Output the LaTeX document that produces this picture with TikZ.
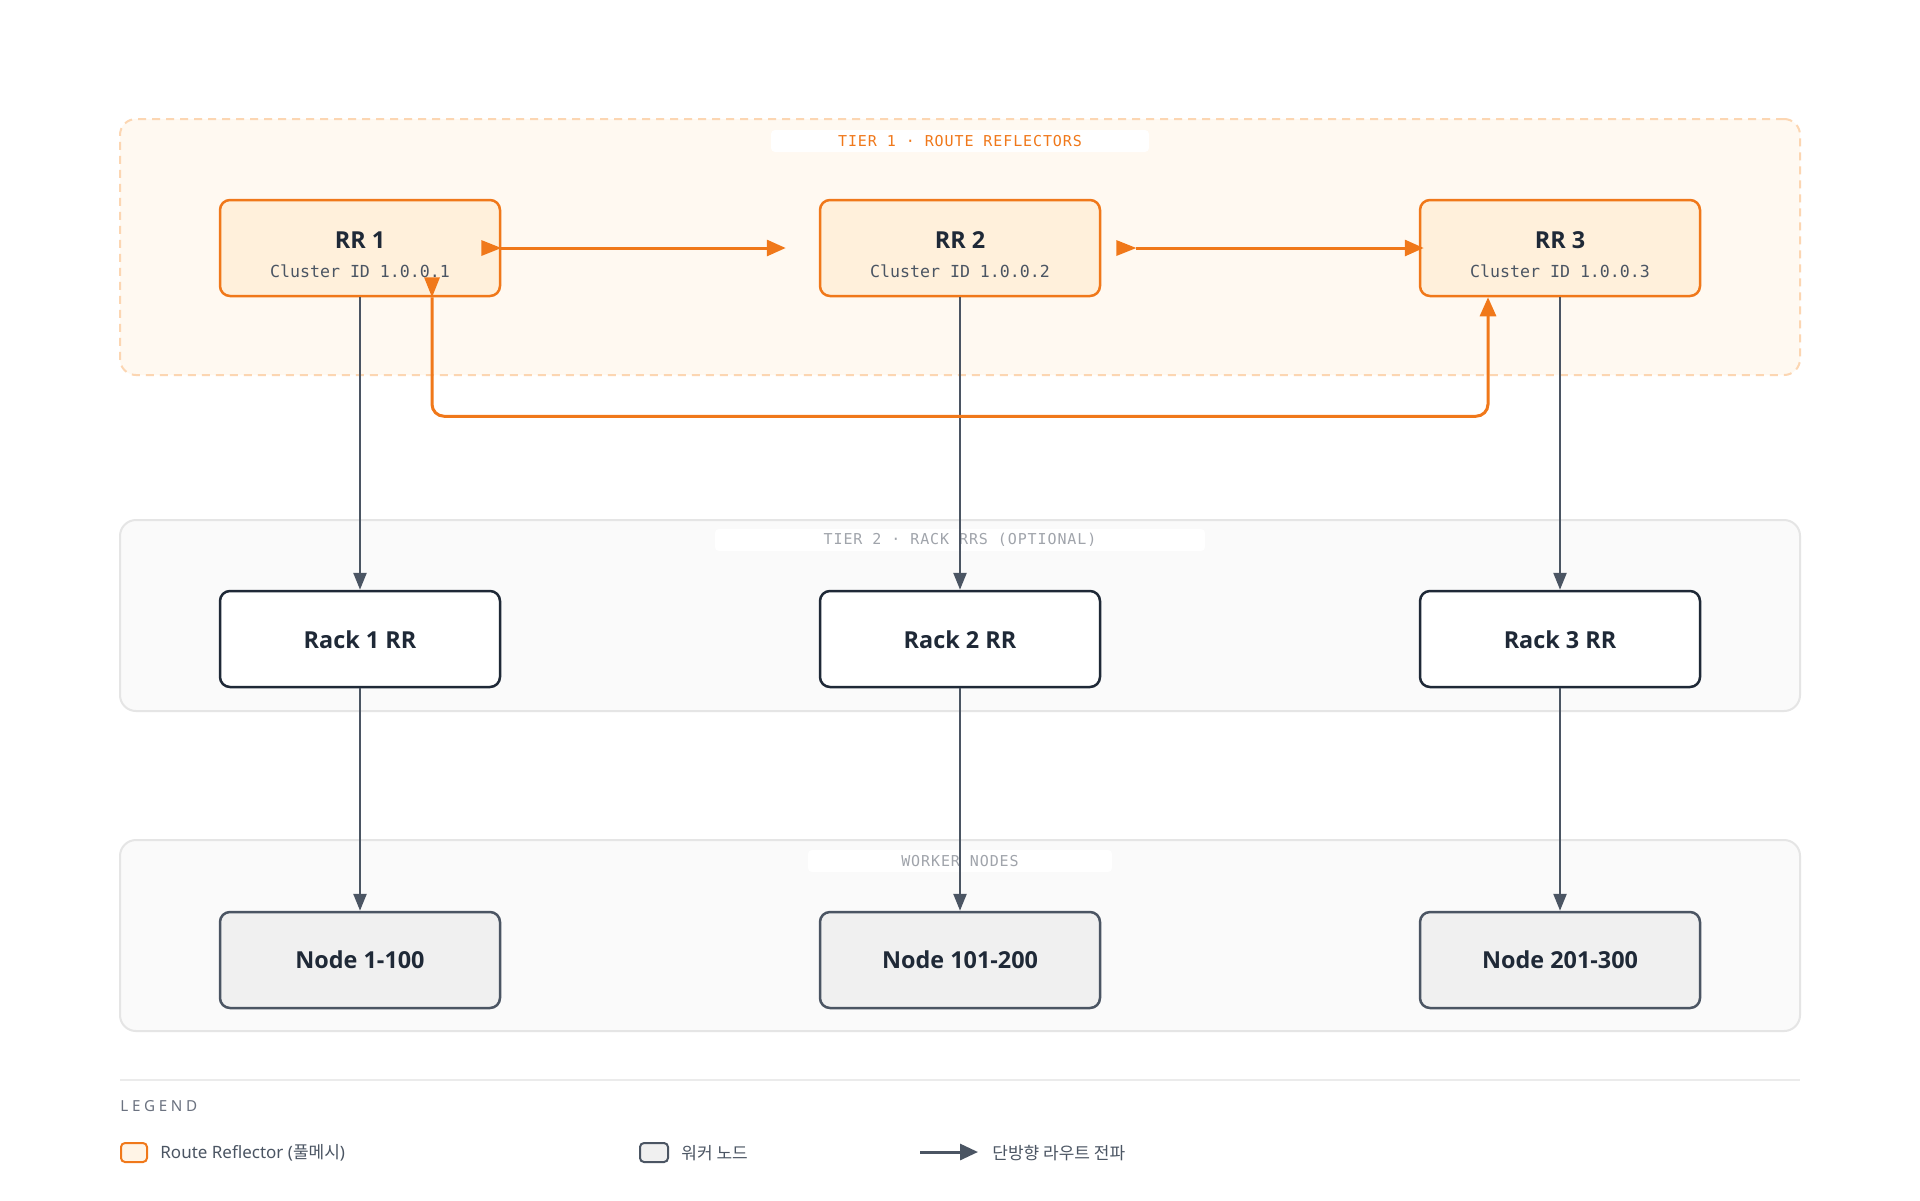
\documentclass[tikz,border=0pt]{standalone}
\usepackage{fontspec}
\setmainfont{Noto Sans}
\setmonofont{DejaVu Sans Mono}
\newfontfamily\cjk{Noto Sans CJK KR}
\newfontfamily\titlefont{Open Sans}
\newfontfamily\monols[LetterSpace=6]{DejaVu Sans Mono}
\newfontfamily\sansls[LetterSpace=24]{Noto Sans}
\usetikzlibrary{arrows.meta,calc}
\definecolor{orangec}{RGB}{240,120,26}
\definecolor{rrfill}{RGB}{255,240,219}
\definecolor{tonefill}{RGB}{255,249,241}
\definecolor{tonedraw}{RGB}{252,214,178}
\definecolor{ttwofill}{RGB}{250,250,250}
\definecolor{ttwodraw}{RGB}{229,229,229}
\definecolor{darktext}{RGB}{31,41,55}
\definecolor{greyline}{RGB}{75,85,99}
\definecolor{nodefill}{RGB}{240,240,240}
\definecolor{labgrey}{RGB}{160,164,171}
\definecolor{leggrey}{RGB}{107,114,128}
\definecolor{sepgrey}{RGB}{235,235,235}
\tikzset{
  tierbox/.style={rounded corners=8pt, minimum width=840pt, inner sep=0pt},
  tierlabel/.style={fill=white, rounded corners=2pt, minimum height=11pt, inner sep=0pt, font=\monols\fontsize{7.5}{9}\selectfont},
  rrbox/.style={draw=orangec, fill=rrfill, line width=1.25pt, rounded corners=5pt, minimum width=140pt, minimum height=48pt, inner sep=0pt},
  rackbox/.style={draw=darktext, fill=white, line width=1.25pt, rounded corners=5pt, minimum width=140pt, minimum height=48pt, inner sep=0pt},
  nodebox/.style={draw=greyline, fill=nodefill, line width=1.25pt, rounded corners=5pt, minimum width=140pt, minimum height=48pt, inner sep=0pt},
  boxtitle/.style={anchor=base, inner sep=0pt, text=darktext, font=\titlefont\bfseries\fontsize{11.7}{14}\selectfont},
  boxsub/.style={anchor=base, inner sep=0pt, text=greyline, font=\ttfamily\fontsize{8.3}{10}\selectfont},
  garrow/.style={draw=greyline, line width=1.25pt, -{Triangle[length=8.5pt,width=6.5pt]}},
  oarrow/.style={draw=orangec, line width=1.5pt, -{Triangle[length=9.5pt,width=8pt]}},
  legtext/.style={anchor=west, inner sep=0pt, text=greyline, font=\fontsize{8.5}{10}\selectfont},
}
\begin{document}
\begin{tikzpicture}[x=0.5pt,y=-0.5pt]
\useasboundingbox[fill=white] (0,0) rectangle (1920,1200);

% tier backgrounds
\node[tierbox, draw=tonedraw, fill=tonefill, line width=1pt, dash pattern=on 4pt off 3pt, minimum height=128pt] (tier1) at (960,247) {};
\node[tierbox, draw=ttwodraw, fill=ttwofill, line width=1pt, minimum height=95.5pt] (tier2) at (960,615.5) {};
\node[tierbox, draw=ttwodraw, fill=ttwofill, line width=1pt, minimum height=95.5pt] (tier3) at (960,935.5) {};

\node[tierlabel, text=orangec, minimum width=189pt] (t1lab) at (960,141) {TIER 1 · ROUTE REFLECTORS};
\node[tierlabel, text=labgrey, minimum width=245pt] (t2lab) at (960,540) {TIER 2 · RACK RRS (OPTIONAL)};
\node[tierlabel, text=labgrey, minimum width=152pt] (t3lab) at (960,861) {WORKER NODES};

% RR boxes
\node[rrbox] (rr1) at (360,248) {};
\node[rrbox] (rr2) at (960,248) {};
\node[rrbox] (rr3) at (1560,248) {};
\node[boxtitle] (rr1t) at (360,248) {RR 1};
\node[boxtitle] (rr2t) at (960,248) {RR 2};
\node[boxtitle] (rr3t) at (1560,248) {RR 3};
\node[boxsub] (rr1s) at (360,277) {Cluster ID 1.0.0.1};
\node[boxsub] (rr2s) at (960,277) {Cluster ID 1.0.0.2};
\node[boxsub] (rr3s) at (1560,277) {Cluster ID 1.0.0.3};

% rack boxes
\node[rackbox] (rack1) at (360,639) {};
\node[rackbox] (rack2) at (960,639) {};
\node[rackbox] (rack3) at (1560,639) {};
\node[boxtitle] (rack1t) at (360,648) {Rack 1 RR};
\node[boxtitle] (rack2t) at (960,648) {Rack 2 RR};
\node[boxtitle] (rack3t) at (1560,648) {Rack 3 RR};

% worker nodes
\node[nodebox] (n1) at (360,960) {};
\node[nodebox] (n2) at (960,960) {};
\node[nodebox] (n3) at (1560,960) {};
\node[boxtitle] (n1t) at (360,968) {Node 1-100};
\node[boxtitle] (n2t) at (960,968) {Node 101-200};
\node[boxtitle] (n3t) at (1560,968) {Node 201-300};

% grey arrows
\draw[garrow] (rr1.south) -- (rack1.north);
\draw[garrow] (rr2.south) -- (rack2.north);
\draw[garrow] (rr3.south) -- (rack3.north);
\draw[garrow] (rack1.south) -- (n1.north);
\draw[garrow] (rack2.south) -- (n2.north);
\draw[garrow] (rack3.south) -- (n3.north);

% orange full-mesh arrows
\coordinate (a1s) at (rr1.east);
\coordinate (a1e) at ($(rr2.west)+(-33,0)$);
\coordinate (a2s) at ($(rr2.east)+(35,0)$);
\coordinate (a2e) at ($(rr3.west)+(5,0)$);
\draw[oarrow] (a1s) -- (a1e);
\draw[oarrow] (a2s) -- (a2e);
\fill[orangec] (a1s) -- ++(-20,8) -- ++(0,-16) -- cycle;
\fill[orangec] (a2s) -- ++(-20,8) -- ++(0,-16) -- cycle;

\coordinate (l0) at ($(rr1.south)+(72,0)$);
\coordinate (l1) at ($(rr1.south)+(72,119)$);
\coordinate (l2) at ($(rr3.south)+(-72,119)$);
\coordinate (l3) at ($(rr3.south)+(-72,0)$);
\draw[oarrow, rounded corners=6pt] (l0) -- (l1) -- (l2) -- (l3);
\fill[orangec] (l0) -- ++(-8,-20) -- ++(16,0) -- cycle;

% legend
\coordinate (sepa) at (120,1080);
\coordinate (sepb) at (1800,1080);
\draw[sepgrey, line width=1pt] (sepa) -- (sepb);
\node[anchor=west, inner sep=0pt, text=leggrey, font=\sansls\fontsize{7.6}{9}\selectfont] (legend) at (120,1106) {LEGEND};

\node[draw=orangec, fill=rrfill!70!white, line width=1pt, rounded corners=2pt, minimum width=13pt, minimum height=9.5pt, inner sep=0pt] (sw1) at (134,1152.5) {};
\node[legtext] (lt1) at (160,1153) {Route Reflector (\cjk 풀메시\rmfamily)};
\node[draw=greyline, fill=nodefill, line width=1pt, rounded corners=2pt, minimum width=14pt, minimum height=9.5pt, inner sep=0pt] (sw2) at (654,1152.5) {};
\node[legtext] (lt2) at (681,1153) {\cjk 워커 노드};
\coordinate (la1) at (920,1152);
\coordinate (la2) at (978,1152);
\draw[draw=greyline, line width=1.5pt, -{Triangle[length=9pt,width=8pt]}] (la1) -- (la2);
\node[legtext] (lt3) at (992,1153) {\cjk 단방향 라우트 전파};
\end{tikzpicture}
\end{document}
